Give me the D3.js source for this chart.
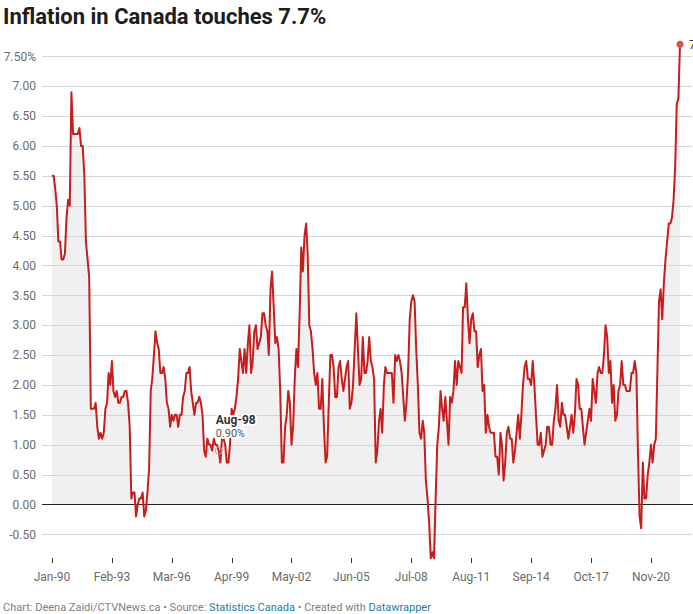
<!DOCTYPE html>
<html>
<head>
<meta charset="utf-8">
<script src="https://cdn.jsdelivr.net/npm/d3@7"></script>
<style>
    body { margin: 0; background: #fff; }
    text { font-family: Roboto, "Noto Sans", sans-serif; }
</style>
</head>
<body>
<div id="line-chart"></div>
<script>
// Year-over-year CPI change (%), monthly, one array per year
var v1990 = [5.5, 5.5, 5.3, 5.0, 4.4, 4.4, 4.1, 4.1, 4.2, 4.8, 5.1, 5.0];
var v1991 = [6.9, 6.2, 6.2, 6.2, 6.2, 6.3, 6.0, 6.0, 5.5, 4.4, 4.1, 3.8];
var v1992 = [1.6, 1.6, 1.6, 1.7, 1.3, 1.1, 1.2, 1.1, 1.2, 1.6, 1.7, 2.2];
var v1993 = [2.0, 2.4, 1.9, 1.8, 1.9, 1.7, 1.7, 1.8, 1.8, 1.9, 1.9, 1.7];
var v1994 = [1.3, 0.1, 0.2, 0.2, -0.2, 0.0, 0.1, 0.1, 0.2, -0.2, -0.1, 0.2];
var v1995 = [0.6, 1.9, 2.1, 2.5, 2.9, 2.7, 2.6, 2.2, 2.2, 2.3, 2.1, 1.7];
var v1996 = [1.6, 1.3, 1.5, 1.4, 1.5, 1.5, 1.3, 1.5, 1.5, 1.8, 1.9, 2.2];
var v1997 = [2.2, 2.3, 1.9, 1.7, 1.5, 1.7, 1.7, 1.8, 1.7, 1.5, 0.9, 0.8];
var v1998 = [1.1, 1.0, 1.0, 0.9, 1.1, 1.0, 1.0, 0.9, 0.7, 1.1, 1.1, 1.0];
var v1999 = [0.7, 0.7, 1.0, 1.6, 1.5, 1.6, 1.8, 2.1, 2.6, 2.4, 2.2, 2.6];
var v2000 = [2.2, 2.7, 3.0, 2.2, 2.4, 2.9, 3.0, 2.6, 2.7, 2.8, 3.2, 3.2];
var v2001 = [3.0, 2.9, 2.5, 3.6, 3.9, 3.3, 2.7, 2.8, 2.6, 1.9, 0.7, 0.7];
var v2002 = [1.3, 1.5, 1.9, 1.7, 1.0, 1.3, 2.1, 2.6, 2.3, 3.2, 4.3, 3.9];
var v2003 = [4.5, 4.7, 4.2, 3.0, 2.9, 2.6, 2.2, 2.0, 2.2, 1.6, 1.6, 2.1];
var v2004 = [1.3, 0.7, 0.8, 1.7, 2.5, 2.5, 2.3, 1.8, 1.8, 2.3, 2.4, 2.1];
var v2005 = [1.9, 2.1, 2.3, 2.4, 1.6, 1.7, 2.0, 2.6, 3.2, 2.6, 2.0, 2.1];
var v2006 = [2.8, 2.2, 2.2, 2.4, 2.8, 2.4, 2.3, 2.1, 0.7, 0.9, 1.4, 1.6];
var v2007 = [1.2, 2.0, 2.3, 2.2, 2.2, 2.2, 2.2, 1.7, 2.5, 2.4, 2.5, 2.4];
var v2008 = [2.2, 1.8, 1.4, 1.7, 2.2, 3.1, 3.4, 3.5, 3.4, 2.6, 2.0, 1.2];
var v2009 = [1.1, 1.4, 1.2, 0.4, 0.1, -0.3, -0.9, -0.8, -0.9, 0.1, 1.0, 1.3];
var v2010 = [1.9, 1.6, 1.4, 1.8, 1.4, 1.0, 1.8, 1.7, 1.9, 2.4, 2.0, 2.4];
var v2011 = [2.3, 2.2, 3.3, 3.3, 3.7, 3.1, 2.7, 3.1, 3.2, 2.9, 2.9, 2.3];
var v2012 = [2.5, 2.6, 1.9, 2.0, 1.2, 1.5, 1.3, 1.2, 1.2, 1.2, 0.8, 0.8];
var v2013 = [0.5, 1.2, 1.0, 0.4, 0.7, 1.2, 1.3, 1.1, 1.1, 0.7, 0.9, 1.2];
var v2014 = [1.5, 1.1, 1.5, 2.0, 2.3, 2.4, 2.1, 2.1, 2.0, 2.4, 2.0, 1.5];
var v2015 = [1.0, 1.0, 1.2, 0.8, 0.9, 1.0, 1.3, 1.3, 1.0, 1.0, 1.4, 1.6];
var v2016 = [2.0, 1.4, 1.3, 1.7, 1.5, 1.5, 1.3, 1.1, 1.3, 1.5, 1.2, 1.5];
var v2017 = [2.1, 2.0, 1.6, 1.6, 1.3, 1.0, 1.2, 1.4, 1.6, 1.4, 2.1, 1.9];
var v2018 = [1.7, 2.2, 2.3, 2.2, 2.2, 2.5, 3.0, 2.8, 2.2, 2.4, 1.7, 2.0];
var v2019 = [1.4, 1.5, 1.9, 2.0, 2.4, 2.0, 2.0, 1.9, 1.9, 1.9, 2.2, 2.2];
var v2020 = [2.4, 2.2, 0.9, -0.2, -0.4, 0.7, 0.1, 0.1, 0.5, 0.7, 1.0, 0.7];
var v2021 = [1.0, 1.1, 2.2, 3.4, 3.6, 3.1, 3.7, 4.1, 4.4, 4.7, 4.7, 4.8];
var v2022 = [5.1, 5.7, 6.7, 6.8, 7.7];

var years = [v1990, v1991, v1992, v1993, v1994, v1995, v1996, v1997, v1998, v1999,
             v2000, v2001, v2002, v2003, v2004, v2005, v2006, v2007, v2008, v2009,
             v2010, v2011, v2012, v2013, v2014, v2015, v2016, v2017, v2018, v2019,
             v2020, v2021, v2022];
var firstYear = 1990;

var xTickLabels = ["Jan-90", "Feb-93", "Mar-96", "Apr-99", "May-02", "Jun-05",
                   "Jul-08", "Aug-11", "Sep-14", "Oct-17", "Nov-20"];
var yTicks = [-0.5, 0, 0.5, 1, 1.5, 2, 2.5, 3, 3.5, 4, 4.5, 5, 5.5, 6, 6.5, 7, 7.5];

var annotation = {date: "Aug-98", label: "Aug-98", value: "0.90%"};

// Flatten years into dated points
var data = [];
years.forEach(function(vals, i) {
    vals.forEach(function(v, m) {
        data.push({date: new Date(firstYear + i, m, 1), value: v});
    });
});

var parseTick = d3.timeParse("%b-%y");
var last = data[data.length - 1];

var width = 693, height = 614;
var svg = d3.select("#line-chart").append("svg")
    .attr("width", width)
    .attr("height", height)
    .style("display", "block");

// Scales
var x = d3.scaleTime()
    .domain([data[0].date, last.date])
    .range([52, 680]);

var y = d3.scaleLinear()
    .domain([-0.5, 7.5])
    .range([534.3, 56.3]);

// Title
svg.append("text")
    .attr("x", 3)
    .attr("y", 24)
    .attr("fill", "#1d1d1d")
    .style("font-size", "22px")
    .style("font-weight", 700)
    .text("Inflation in Canada touches 7.7%");

// Area fill down to zero
var area = d3.area()
    .x(function(d) { return x(d.date); })
    .y0(y(0))
    .y1(function(d) { return y(d.value); });

svg.append("path")
    .datum(data)
    .attr("fill", "#f0f0f0")
    .attr("d", area);

// Horizontal gridlines + y labels
var grid = svg.append("g").classed("grid", true);
grid.selectAll("line")
    .data(yTicks.filter(function(d) { return d !== 0; }))
    .enter()
    .append("line")
    .attr("x1", 42)
    .attr("x2", 692)
    .attr("y1", function(d) { return Math.round(y(d)) + 0.5; })
    .attr("y2", function(d) { return Math.round(y(d)) + 0.5; })
    .attr("stroke", "#d6d6d6")
    .attr("stroke-width", 1);

svg.append("g")
    .selectAll("text")
    .data(yTicks)
    .enter()
    .append("text")
    .attr("x", 36)
    .attr("y", function(d) { return y(d); })
    .attr("dy", "0.35em")
    .attr("text-anchor", "end")
    .attr("fill", "#6b6b6b")
    .style("font-size", "12px")
    .text(function(d) {
        return d === 7.5 ? d.toFixed(2) + "%" : d.toFixed(2);
    });

// Zero baseline
svg.append("line")
    .attr("x1", 42)
    .attr("x2", 693)
    .attr("y1", Math.round(y(0)) + 0.5)
    .attr("y2", Math.round(y(0)) + 0.5)
    .attr("stroke", "#222")
    .attr("stroke-width", 1);

// X axis ticks and labels
var tickDates = xTickLabels.map(function(s) { return parseTick(s); });
var xAxis = svg.append("g").classed("x axis", true);
xAxis.selectAll("line")
    .data(tickDates)
    .enter()
    .append("line")
    .attr("x1", function(d) { return Math.round(x(d)) + 0.5; })
    .attr("x2", function(d) { return Math.round(x(d)) + 0.5; })
    .attr("y1", 558)
    .attr("y2", 563)
    .attr("stroke", "#333")
    .attr("stroke-width", 1);

xAxis.selectAll("text")
    .data(tickDates)
    .enter()
    .append("text")
    .attr("x", function(d) { return x(d); })
    .attr("y", 580.5)
    .attr("text-anchor", "middle")
    .attr("fill", "#6b6b6b")
    .style("font-size", "12px")
    .text(function(d, i) { return xTickLabels[i]; });

// The line
var line = d3.line()
    .x(function(d) { return x(d.date); })
    .y(function(d) { return y(d.value); });

svg.append("path")
    .datum(data)
    .attr("fill", "none")
    .attr("stroke", "#c71e1d")
    .attr("stroke-width", 2)
    .attr("stroke-linejoin", "round")
    .attr("d", line);

// Highlighted point annotation
var aDate = parseTick(annotation.date);
var aPoint = data.find(function(d) { return +d.date === +aDate; });
var ax = x(aPoint.date), ay = y(aPoint.value);

svg.append("circle")
    .attr("cx", ax)
    .attr("cy", ay)
    .attr("r", 3.5)
    .attr("fill", "none")
    .attr("stroke", "#aaa")
    .attr("stroke-width", 1);

var note = svg.append("g")
    .attr("paint-order", "stroke")
    .attr("stroke", "#fff")
    .attr("stroke-width", 4)
    .attr("stroke-linejoin", "round");

note.append("text")
    .attr("x", ax - 3)
    .attr("y", ay - 27)
    .attr("fill", "#333")
    .style("font-size", "12px")
    .style("font-weight", 700)
    .text(annotation.label);

note.append("text")
    .attr("x", ax - 3)
    .attr("y", ay - 14)
    .attr("fill", "#555")
    .style("font-size", "11px")
    .text(annotation.value);

// Last value marker and label (runs off the right edge)
svg.append("circle")
    .attr("cx", x(last.date))
    .attr("cy", y(last.value))
    .attr("r", 3.5)
    .attr("fill", "#d9534f");

svg.append("text")
    .attr("x", x(last.date) + 9)
    .attr("y", y(last.value))
    .attr("dy", "0.35em")
    .attr("fill", "#333")
    .style("font-size", "12px")
    .text(last.value.toFixed(2) + "%");

// Footer
var foot = svg.append("text")
    .attr("x", 3)
    .attr("y", 611)
    .attr("fill", "#808080")
    .style("font-size", "11px");
foot.append("tspan").text("Chart: Deena Zaidi/CTVNews.ca • Source: ");
foot.append("tspan").attr("fill", "#1d81a2").text("Statistics Canada");
foot.append("tspan").text(" • Created with ");
foot.append("tspan").attr("fill", "#1d81a2").text("Datawrapper");
</script>
</body>
</html>
